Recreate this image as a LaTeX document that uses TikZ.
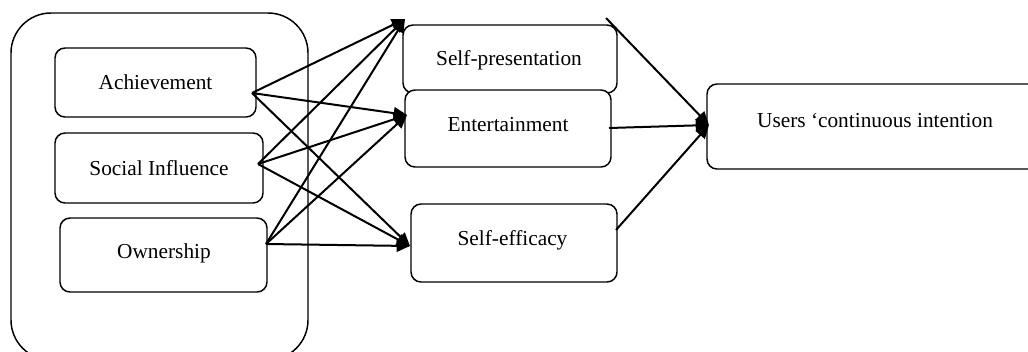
\documentclass[tikz,border=0pt]{standalone}
\usepackage{fontspec}
\setmainfont{Liberation Serif}
\usetikzlibrary{arrows.meta}
\begin{document}
\begin{tikzpicture}[x=0.75pt,y=-0.75pt,
  box/.style={draw,line width=1.1pt,rounded corners=7.5pt,fill=white,inner sep=0pt,
    font=\fontsize{16}{19}\selectfont},
  grp/.style={draw,line width=1.1pt,rounded corners=30pt,inner sep=0pt},
  link/.style={line width=1.5pt,-{Triangle[length=10pt,width=9pt]}},
  txt/.style={inner sep=0pt,font=\fontsize{16}{19}\selectfont}]
\useasboundingbox (0,0) rectangle (1028,351);
% outer group
\node[grp,minimum width=297*0.75pt,minimum height=347*0.75pt] (G) at (159.5,186.5) {};
% left boxes
\node[box,minimum width=201*0.75pt,minimum height=69*0.75pt] (A) at (155.5,82.5) {};
\node[txt] (At) at (155.5,82) {Achievement};
\node[box,minimum width=208*0.75pt,minimum height=70*0.75pt] (S) at (159,168) {};
\node[txt] (St) at (159,168) {Social Influence};
\node[box,minimum width=207*0.75pt,minimum height=74*0.75pt] (O) at (163.5,255) {};
\node[txt] (Ot) at (164,253) {Ownership};
% middle boxes
\node[box,minimum width=214*0.75pt,minimum height=68*0.75pt] (SP) at (510,59) {};
\node[txt] (SPt) at (509,60) {Self-presentation};
\node[box,minimum width=206*0.75pt,minimum height=77*0.75pt] (EN) at (508,128.5) {};
\node[txt] (ENt) at (508,125) {Entertainment};
\node[box,minimum width=206*0.75pt,minimum height=78*0.75pt] (SE) at (514,243) {};
\node[txt] (SEt) at (512.5,240) {Self-efficacy};
% right box
\node[box,minimum width=333*0.75pt,minimum height=85*0.75pt] (U) at (873.5,126.5) {};
\node[txt] (Ut) at (875,120) {Users ‘continuous intention};
% connection points
\coordinate (a1) at (252,93);
\coordinate (s1) at (258,164);
\coordinate (o1) at (266,244);
\coordinate (tSP) at (405,19);
\coordinate (tEN) at (407,115);
\coordinate (tSE) at (410,246);
\coordinate (sp2) at (606,18);
\coordinate (en2) at (609,128);
\coordinate (se2) at (616,230);
\coordinate (tU) at (709,125);
% arrows
\foreach \s in {a1,s1,o1}{
  \draw[link] (\s) -- (tSP);
  \draw[link] (\s) -- (tEN);
  \draw[link] (\s) -- (tSE);
}
\draw[link] (sp2) -- (tU);
\draw[link] (en2) -- (tU);
\draw[link] (se2) -- (tU);
\end{tikzpicture}
\end{document}
